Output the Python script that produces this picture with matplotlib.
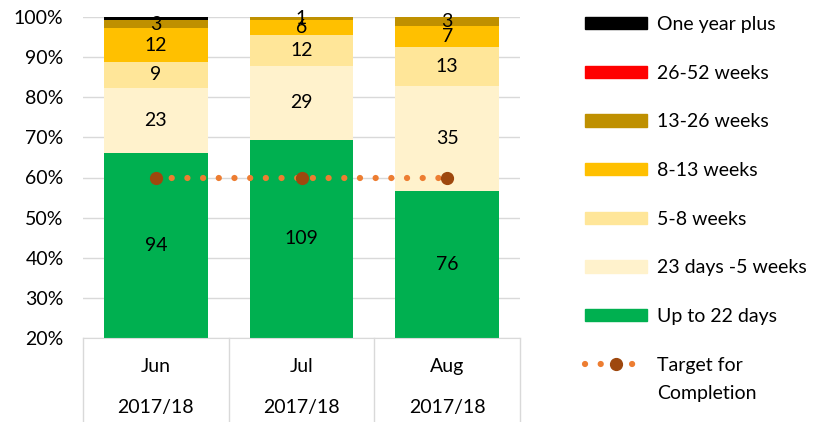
import numpy as np
import matplotlib.pyplot as plt
from matplotlib.patches import Patch
from matplotlib.lines import Line2D
from matplotlib.transforms import blended_transform_factory

plt.rcParams['font.family'] = ['Lato', 'DejaVu Sans']

months = ['Jun', 'Jul', 'Aug']
years = ['2017/18', '2017/18', '2017/18']

up_to_22_days = [94, 109, 76]
days_23_to_5_weeks = [23, 29, 35]
weeks_5_8 = [9, 12, 13]
weeks_8_13 = [12, 6, 7]
weeks_13_26 = [3, 1, 3]
weeks_26_52 = [0, 0, 0]
one_year_plus = [1, 0, 0]
target = [60, 60, 60]

series = [
    ('Up to 22 days', up_to_22_days, '#00B050', True),
    ('23 days -5 weeks', days_23_to_5_weeks, '#FFF2CC', True),
    ('5-8 weeks', weeks_5_8, '#FFE699', True),
    ('8-13 weeks', weeks_8_13, '#FFC000', True),
    ('13-26 weeks', weeks_13_26, '#BF9000', True),
    ('26-52 weeks', weeks_26_52, '#FF0000', True),
    ('One year plus', one_year_plus, '#000000', False),
]

W, H = 819, 422
fig = plt.figure(figsize=(W / 100, H / 100), dpi=100)
ax = fig.add_axes([83 / W, (H - 338) / H, (520 - 83) / W, (338 - 17) / H])

ymin, ymax = 20, 100
x = np.arange(len(months))
totals = np.sum([s[1] for s in series], axis=0)
bottom = np.zeros(len(months))
fs = 14
for name, vals, color, show in series:
    pct = np.array(vals) / totals * 100
    ax.bar(x, pct, 0.71, bottom=bottom, color=color, zorder=2)
    if show:
        for i, v in enumerate(vals):
            if v > 0:
                # label sits in the middle of the visible part of the segment
                lo = max(bottom[i], ymin)
                ax.text(x[i], (lo + bottom[i] + pct[i]) / 2, str(v), ha='center', va='center',
                        fontsize=fs, color='#000000', zorder=4)
    bottom += pct

dots = dict(linestyle=(0, (0.01, 2.5)), linewidth=4.5, color='#ED7D31',
            dash_capstyle='round', marker='o', markersize=8.5,
            markerfacecolor='#9E480E', markeredgecolor='#9E480E')
ax.plot(x, target, zorder=3, **dots)

ax.set_xlim(-0.5, 2.5)
ax.set_ylim(ymin, ymax)
ax.set_yticks(np.arange(20, 101, 10))
ax.set_yticklabels([f'{t}%' for t in range(20, 101, 10)], fontsize=fs, color='#000000')
ax.tick_params(axis='y', length=0, pad=14)
ax.tick_params(axis='x', length=0, labelbottom=False)
ax.grid(axis='y', color='#D9D9D9', linewidth=1, zorder=0)
for side in ['top', 'right', 'left']:
    ax.spines[side].set_visible(False)
ax.spines['bottom'].set_color('#D9D9D9')

# category table below the axis
tr = blended_transform_factory(ax.transData, ax.transAxes)
for xs in [-0.5, 0.5, 1.5, 2.5]:
    ax.plot([xs, xs], [0, -0.27], transform=tr, color='#D9D9D9', linewidth=1, clip_on=False)
for i in range(len(months)):
    ax.text(x[i], -0.09, months[i], transform=tr, ha='center', va='center', fontsize=fs)
    ax.text(x[i], -0.218, years[i], transform=tr, ha='center', va='center', fontsize=fs)

handles = [Patch(color=c, label=n) for n, v, c, s in series[::-1]]
handles.append(Line2D([0, 1, 2, 3, 4], [0] * 5, markevery=[2], label='Target for', **dots))
leg = fig.legend(handles=handles, loc='upper left', bbox_to_anchor=(585 / W, 1 - 16 / H),
                 frameon=False, fontsize=fs, handlelength=3.2, handleheight=0.6,
                 labelspacing=1.63, handletextpad=0.5, borderpad=0, borderaxespad=0)

# second line of the target label, under the first
fig.canvas.draw()
bb = leg.get_texts()[-1].get_window_extent()
fig.text(bb.x0 / W, (bb.y0 - 28) / H, 'Completion', fontsize=fs, va='bottom', ha='left')

fig.savefig('out.png', dpi=100)
